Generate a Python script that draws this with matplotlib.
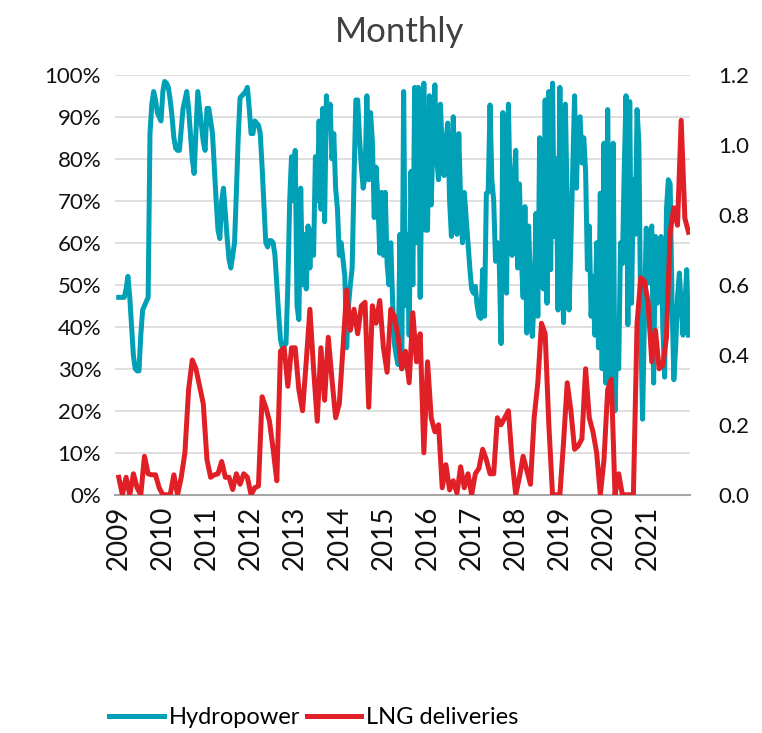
import matplotlib.pyplot as plt
import numpy as np

plt.rcParams["font.family"] = ["Lato", "DejaVu Sans"]

TEAL = "#00A0B6"
RED = "#E01F26"

years = list(range(2009, 2022))

# hydropower share (%), two readings per month
hydro_2009 = [47, 47, 47, 47, 49, 52, 47, 40, 33, 30, 29.5, 29.5,
              38, 44, 45, 46, 47, 86, 93, 96, 94, 91, 90, 89]
hydro_2010 = [96, 98.4, 98, 97, 94, 90, 85, 82.5, 82, 82, 87, 92,
              94, 96, 92, 86, 80, 76.5, 86, 96, 92, 88, 84, 82]
hydro_2011 = [92, 92, 89, 86, 78, 70, 63, 61, 70, 73, 67, 61,
              56, 54, 57, 60, 72, 85, 94.5, 95, 95.5, 96, 97, 92]
hydro_2012 = [86, 86, 89, 88.5, 88, 86, 78, 69, 60, 59, 60.5, 60.5,
              60, 57, 50, 43, 37, 35, 35.5, 36, 50, 70, 80.5, 70]
hydro_2013 = [82, 45, 41.7, 73, 50, 62, 49, 64, 54, 63, 57, 80.5,
              70, 89, 68, 92, 65, 95, 88, 93, 80, 86, 73, 68]
hydro_2014 = [57, 60, 56, 52, 35, 45, 50, 54, 75, 94, 94, 85,
              78, 73, 76, 95, 75, 91, 84, 66, 78, 70, 57.5, 72]
hydro_2015 = [57, 72, 55, 50, 60, 46, 36, 33, 31, 62, 30, 96,
              45, 62, 38, 77, 50, 97, 60, 97, 47, 80, 98, 63]
hydro_2016 = [63, 95, 69, 85, 97.6, 80, 75, 93, 82, 76, 84, 88.5,
              70, 61.5, 90, 75, 62, 86, 70, 60, 72, 66, 60, 54]
hydro_2017 = [49, 48, 49.6, 45, 42.5, 42, 53.6, 42.5, 71.8, 72, 92.8, 75,
              70, 55.6, 60, 55.6, 36, 91, 60, 48, 93, 70, 57, 75]
hydro_2018 = [82, 54, 74, 57, 47, 68.6, 38.5, 64, 50, 37.7, 46, 67,
              42.5, 85, 60, 49, 94, 45.6, 96, 53.6, 98, 61.5, 80, 44]
hydro_2019 = [97, 60, 41, 93, 69, 44, 60, 77, 95, 73, 89, 90,
              79, 85, 77, 53.6, 64, 42.5, 52, 38, 60, 35, 71.8, 30]
hydro_2020 = [83.7, 26.6, 91.7, 50, 22, 83.7, 20, 38, 30, 60, 55, 77,
              95, 40.5, 93.6, 45.6, 75, 62, 91.7, 83.7, 40, 18, 42, 63.5]
hydro_2021 = [50.4, 60, 64, 26.6, 61.5, 45.6, 55, 61.5, 40, 28, 68, 75,
              74, 46.4, 27.4, 35, 47, 52.8, 45, 38, 45, 53.6, 38]

hydro = (hydro_2009 + hydro_2010 + hydro_2011 + hydro_2012 + hydro_2013
         + hydro_2014 + hydro_2015 + hydro_2016 + hydro_2017 + hydro_2018
         + hydro_2019 + hydro_2020 + hydro_2021)

# LNG deliveries, monthly
lng = [0.05, 0.0, 0.05, 0.0, 0.06, 0.02, 0.0, 0.11, 0.06, 0.057, 0.057, 0.02,
       0.0, 0.0, 0.0, 0.057, 0.0, 0.05, 0.12, 0.3, 0.385, 0.36, 0.31, 0.26,
       0.1, 0.05, 0.057, 0.06, 0.095, 0.05, 0.05, 0.015, 0.06, 0.03, 0.06, 0.05,
       0.0, 0.02, 0.025, 0.28, 0.25, 0.21, 0.13, 0.04, 0.41, 0.42, 0.31, 0.42,
       0.42, 0.3, 0.24, 0.38, 0.53, 0.36, 0.21, 0.42, 0.27, 0.45, 0.33, 0.22,
       0.26, 0.42, 0.585, 0.47, 0.53, 0.46, 0.54, 0.55, 0.25, 0.54, 0.49, 0.555,
       0.42, 0.35, 0.53, 0.51, 0.45, 0.36, 0.41, 0.32, 0.52, 0.38, 0.46, 0.12,
       0.38, 0.22, 0.18, 0.2, 0.02, 0.086, 0.014, 0.04, 0.005, 0.08, 0.02, 0.06,
       0.0, 0.06, 0.076, 0.13, 0.1, 0.06, 0.06, 0.22, 0.2, 0.22, 0.24, 0.1,
       0.0, 0.05, 0.11, 0.07, 0.03, 0.22, 0.32, 0.49, 0.46, 0.2, 0.0, 0.0,
       0.0, 0.15, 0.32, 0.24, 0.13, 0.14, 0.16, 0.36, 0.22, 0.18, 0.12, 0.0,
       0.1, 0.3, 0.33, 0.0, 0.06, 0.0, 0.0, 0.0, 0.0, 0.49, 0.62, 0.61,
       0.55, 0.38, 0.47, 0.36, 0.37, 0.45, 0.75, 0.82, 0.77, 1.07, 0.79, 0.75]

hydro_x = np.arange(len(hydro)) / 2.0
lng_x = np.arange(len(lng))

fig = plt.figure(figsize=(7.62, 7.33), dpi=100)
ax = fig.add_axes([0.151, 0.325, 0.755, 0.573])
ax2 = ax.twinx()

ax.plot(hydro_x, hydro, color=TEAL, lw=3.6, solid_joinstyle="round", label="Hydropower")
ax2.plot(lng_x, lng, color=RED, lw=3.6, solid_joinstyle="round", label="LNG deliveries")

ax.set_ylim(0, 100)
ax.set_yticks(range(0, 101, 10))
ax.set_yticklabels([f"{v}%" for v in range(0, 101, 10)])
ax2.set_ylim(0, 1.2)
ax2.set_yticks(np.arange(0, 1.21, 0.2))
ax2.set_yticklabels([f"{v:.1f}" for v in np.arange(0, 1.21, 0.2)])

ax.set_xlim(-1, 155.5)
ax.set_xticks([12 * (y - 2009) for y in years])
ax.set_xticklabels([str(y) for y in years], rotation=90)

ax.grid(axis="y", color="#d9d9d9", lw=1.2)
ax.set_axisbelow(True)
for a in (ax, ax2):
    for s in a.spines.values():
        s.set_visible(False)
    a.tick_params(length=0, labelsize=16, colors="#111111")
ax.spines["bottom"].set_visible(True)
ax.spines["bottom"].set_color("#a6a6a6")
ax.spines["bottom"].set_linewidth(1.5)
ax.tick_params(axis="y", pad=10)
ax.tick_params(axis="x", pad=8, labelsize=20)
ax2.tick_params(axis="y", pad=20)

fig.text(0.525, 0.956, "Monthly", ha="center", va="center", fontsize=25, color="#404040")

h1, l1 = ax.get_legend_handles_labels()
h2, l2 = ax2.get_legend_handles_labels()
fig.legend(h1 + h2, l1 + l2, loc="lower center", bbox_to_anchor=(0.412, -0.022),
           ncol=2, frameon=False, fontsize=17, handlelength=2.3,
           handletextpad=0.2, columnspacing=0.3)

fig.savefig("out.png", dpi=100)
